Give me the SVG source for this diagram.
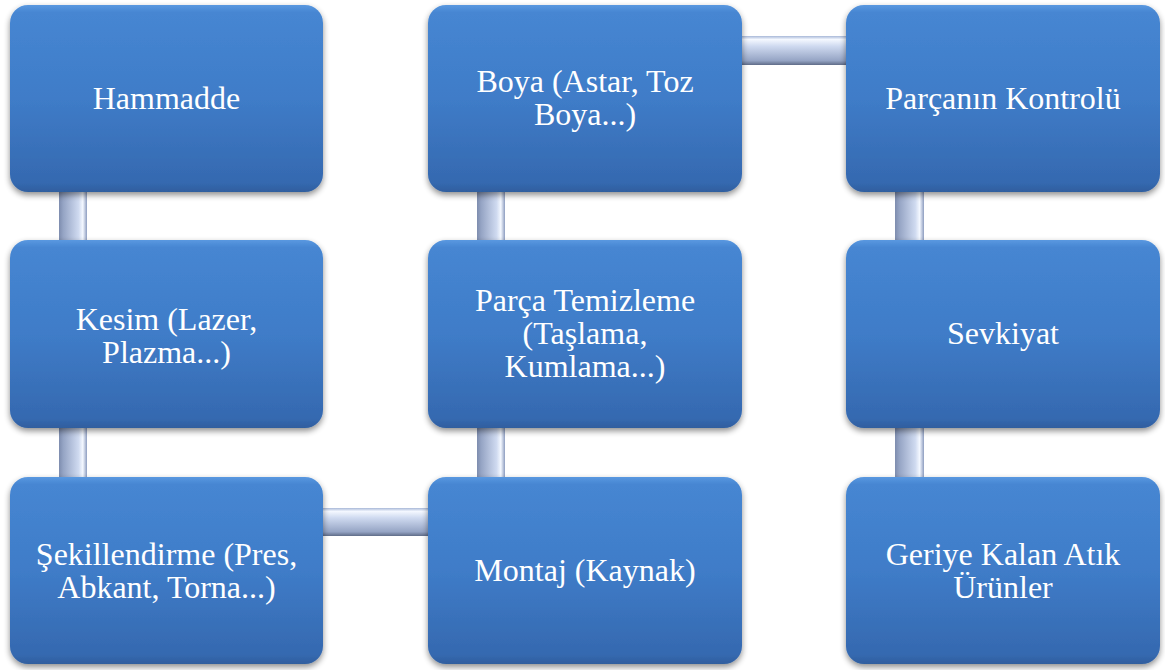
<svg xmlns="http://www.w3.org/2000/svg" width="1165" height="670" viewBox="0 0 1165 670">
<defs>
<linearGradient id="boxg" x1="0" y1="0" x2="0" y2="1">
<stop offset="0" stop-color="#5a98e0"/>
<stop offset="0.04" stop-color="#4686d2"/>
<stop offset="0.5" stop-color="#3f7cc8"/>
<stop offset="0.95" stop-color="#3569b0"/>
<stop offset="1" stop-color="#2f5e9e"/>
</linearGradient>
<linearGradient id="vg" x1="0" y1="0" x2="1" y2="0">
<stop offset="0" stop-color="#7d8cae"/>
<stop offset="0.15" stop-color="#95a4c4"/>
<stop offset="0.7" stop-color="#cfdaf0"/>
<stop offset="0.85" stop-color="#f4f8ff"/>
<stop offset="1" stop-color="#8d9dc0"/>
</linearGradient>
<linearGradient id="hg" x1="0" y1="0" x2="0" y2="1">
<stop offset="0" stop-color="#a8b8d8"/>
<stop offset="0.12" stop-color="#f4f8ff"/>
<stop offset="0.35" stop-color="#cfdaf0"/>
<stop offset="0.85" stop-color="#95a4c4"/>
<stop offset="1" stop-color="#5f6c88"/>
</linearGradient>
<filter id="sh" x="-10%" y="-10%" width="120%" height="125%">
<feGaussianBlur in="SourceAlpha" stdDeviation="3"/>
<feOffset dx="0" dy="3" result="b"/>
<feComponentTransfer><feFuncA type="linear" slope="0.45"/></feComponentTransfer>
<feMerge><feMergeNode/><feMergeNode in="SourceGraphic"/></feMerge>
</filter>
</defs>
<style>
.box{fill:url(#boxg);filter:url(#sh)}
.t{font-family:'Liberation Serif','Times New Roman',serif;font-size:32px;fill:#ffffff;text-anchor:middle}
</style>
<g id="connectors">
<rect x="59" y="185" width="28" height="300" fill="url(#vg)"/>
<rect x="477" y="185" width="28" height="300" fill="url(#vg)"/>
<rect x="895" y="185" width="29" height="300" fill="url(#vg)"/>
<rect x="315" y="508" width="120" height="28" fill="url(#hg)"/>
<rect x="735" y="36" width="118" height="29" fill="url(#hg)"/>
</g>
<g id="n1"><rect class="box" x="10" y="5" width="313" height="187" rx="18"/><text class="t" x="166.5" y="109">Hammadde</text></g>
<g id="n2"><rect class="box" x="10" y="240" width="313" height="188" rx="18"/><text class="t" x="166.5" y="330">Kesim (Lazer,</text><text class="t" x="166.5" y="363">Plazma...)</text></g>
<g id="n3"><rect class="box" x="10" y="477" width="313" height="187" rx="18"/><text class="t" x="166.5" y="565">Şekillendirme (Pres,</text><text class="t" x="166.5" y="598">Abkant, Torna...)</text></g>
<g id="n4"><rect class="box" x="428" y="477" width="314" height="187" rx="18"/><text class="t" x="585" y="581">Montaj (Kaynak)</text></g>
<g id="n5"><rect class="box" x="428" y="240" width="314" height="188" rx="18"/><text class="t" x="585" y="311">Parça Temizleme</text><text class="t" x="585" y="344">(Taşlama,</text><text class="t" x="585" y="377">Kumlama...)</text></g>
<g id="n6"><rect class="box" x="428" y="5" width="314" height="187" rx="18"/><text class="t" x="585" y="92">Boya (Astar, Toz</text><text class="t" x="585" y="125">Boya...)</text></g>
<g id="n7"><rect class="box" x="846" y="5" width="314" height="187" rx="18"/><text class="t" x="1003" y="109">Parçanın Kontrolü</text></g>
<g id="n8"><rect class="box" x="846" y="240" width="314" height="188" rx="18"/><text class="t" x="1003" y="344">Sevkiyat</text></g>
<g id="n9"><rect class="box" x="846" y="477" width="314" height="187" rx="18"/><text class="t" x="1003" y="565">Geriye Kalan Atık</text><text class="t" x="1003" y="598">Ürünler</text></g>
</svg>
